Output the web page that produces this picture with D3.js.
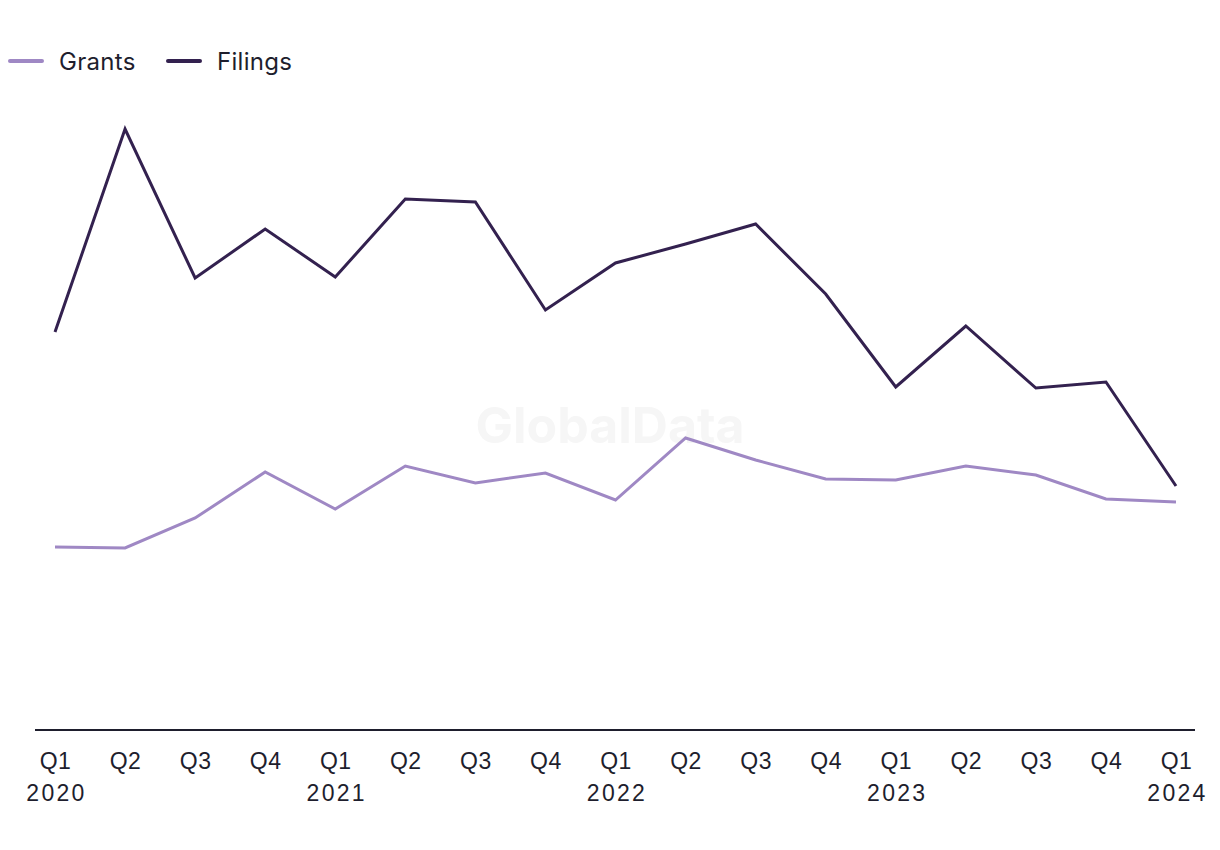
<!DOCTYPE html>
<html>
<head>
<meta charset="utf-8">
<script src="https://cdn.jsdelivr.net/npm/d3@7"></script>
<style>
  html, body { margin: 0; padding: 0; background: #ffffff; }
  svg { display: block; font-family: Inter, "Liberation Sans", sans-serif; }
</style>
</head>
<body>
<svg id="chart" width="1220" height="850"></svg>
<script>
const quarters = ["Q1","Q2","Q3","Q4","Q1","Q2","Q3","Q4","Q1","Q2","Q3","Q4","Q1","Q2","Q3","Q4","Q1"];
const years    = ["2020","","","","2021","","","","2022","","","","2023","","","","2024"];
const filings  = [398, 601, 452, 501, 453, 531, 528, 420, 467, 486, 506, 436, 343, 404, 342, 348, 244];
const grants   = [183, 182, 212, 258, 221, 264, 247, 257, 230, 292, 270, 251, 250, 264, 255, 231, 228];
const seriesNames = ["Grants", "Filings"];
const seriesColors = ["#9f88c4", "#33214f"];

const svg = d3.select("#chart");
const idx = quarters.map((d, i) => i);

const x = d3.scalePoint().domain(idx).range([55, 1176]);
const y = d3.scaleLinear().domain([0, 650]).range([730, 80]);

// watermark
svg.append("text")
  .attr("x", 610).attr("y", 443)
  .attr("text-anchor", "middle")
  .attr("font-size", 50).attr("font-weight", 700)
  .attr("fill", "#f6f6f6")
  .text("GlobalData");

// baseline axis
svg.append("line")
  .attr("x1", 35).attr("x2", 1195)
  .attr("y1", y(0)).attr("y2", y(0))
  .attr("stroke", "#1e1e2d").attr("stroke-width", 2);

// x labels
const xAxis = d3.axisBottom(x).tickSize(0).tickFormat(i => quarters[i]);
const gx = svg.append("g").attr("transform", `translate(0,${y(0)})`).call(xAxis);
gx.select(".domain").remove();
gx.selectAll(".tick text").remove();
gx.selectAll(".tick").each(function(i) {
  const t = d3.select(this).append("text")
    .attr("fill", "#1e1e2d")
    .attr("font-size", 23)
    .attr("text-anchor", "middle");
  t.append("tspan").attr("x", 0).attr("y", 39).attr("letter-spacing", 0.5).text(quarters[i]);
  if (years[i]) t.append("tspan").attr("x", 1).attr("y", 71).attr("letter-spacing", 2.3).text(years[i]);
});

// lines
const line = d3.line().x((d, i) => x(i)).y(d => y(d));
[grants, filings].forEach((data, k) => {
  svg.append("path")
    .datum(data)
    .attr("fill", "none")
    .attr("stroke", seriesColors[k])
    .attr("stroke-width", 3)
    .attr("stroke-linejoin", "miter")
    .attr("d", line);
});

// legend
const legendX = [10, 168];
seriesNames.forEach((name, k) => {
  const g = svg.append("g").attr("transform", `translate(${legendX[k]},61)`);
  g.append("line").attr("x1", 0).attr("x2", 32).attr("y1", 0).attr("y2", 0)
    .attr("stroke", seriesColors[k]).attr("stroke-width", 4).attr("stroke-linecap", "round");
  g.append("text").attr("x", 49).attr("y", 9)
    .attr("font-size", 24).attr("letter-spacing", 0.3).attr("fill", "#1e1e2d").text(name);
});
</script>
</body>
</html>
